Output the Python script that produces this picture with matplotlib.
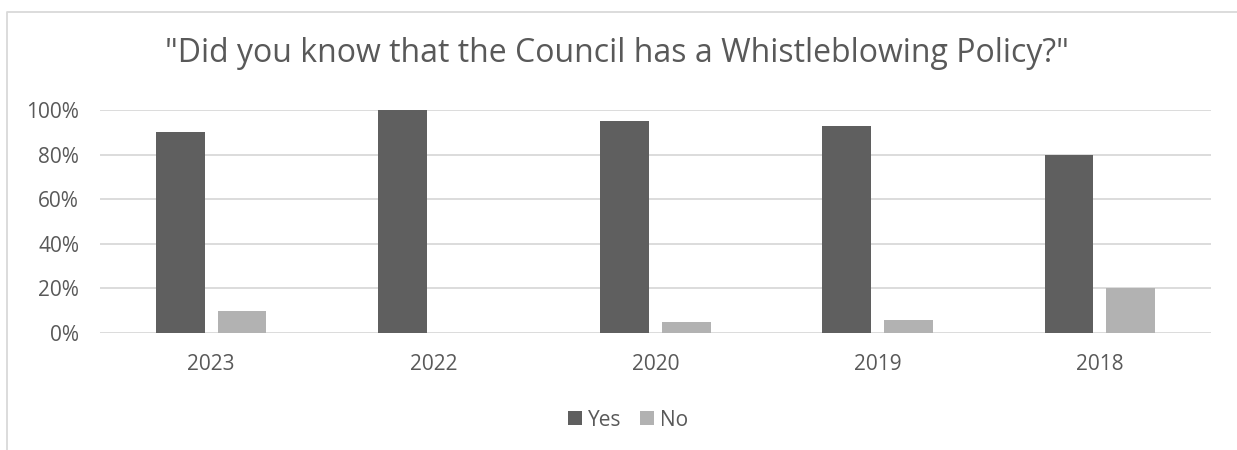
import matplotlib.pyplot as plt
import numpy as np
from matplotlib.lines import Line2D
from matplotlib.ticker import FuncFormatter

years = ['2023', '2022', '2020', '2019', '2018']
yes_pct = [90, 100, 95, 93, 80]
no_pct = [10, 0, 5, 6, 20]

text_col = '#595959'
plt.rcParams['font.family'] = ['Open Sans', 'DejaVu Sans']

W, H = 1237, 450
fig = plt.figure(figsize=(W / 100, H / 100), dpi=100)
ax = fig.add_axes([100 / W, (H - 333) / H, (1211 - 100) / W, (333 - 110) / H])

x = np.arange(len(years))
bw = 0.22
gap = 0.058
ax.bar(x - (bw + gap) / 2, yes_pct, bw, color='#5f5f5f', label='Yes', zorder=3)
ax.bar(x + (bw + gap) / 2, no_pct, bw, color='#b2b2b2', label='No', zorder=3)

ax.set_xlim(-0.5, len(years) - 0.5)
ax.set_ylim(0, 100)
ax.set_yticks(range(0, 101, 20))
ax.yaxis.set_major_formatter(FuncFormatter(lambda v, p: f'{v:.0f}%'))
ax.set_xticks(x)
ax.set_xticklabels(years)
ax.tick_params(length=0, labelsize=15, colors=text_col)
ax.tick_params(axis='x', pad=15)
ax.tick_params(axis='y', pad=15)
ax.grid(axis='y', color='#d9d9d9', linewidth=1.3, zorder=0)
for s in ax.spines.values():
    s.set_visible(False)

fig.text(617 / W, (H - 53) / H, '"Did you know that the Council has a Whistleblowing Policy?"',
         ha='center', va='center', fontsize=23, color=text_col)

fig.legend(loc='center', bbox_to_anchor=(0.508, (H - 420) / H), ncol=2, frameon=False,
           fontsize=15, labelcolor=text_col, handlelength=0.65, handleheight=0.65,
           handletextpad=0.3, columnspacing=0.9)

# chart frame (partly cropped in the reference)
fig.add_artist(Line2D([6.5 / W, 6.5 / W, 1], [0, (H - 11.5) / H, (H - 11.5) / H],
                      transform=fig.transFigure, color='#d9d9d9', linewidth=1.3))

fig.savefig('out.png', dpi=100)
